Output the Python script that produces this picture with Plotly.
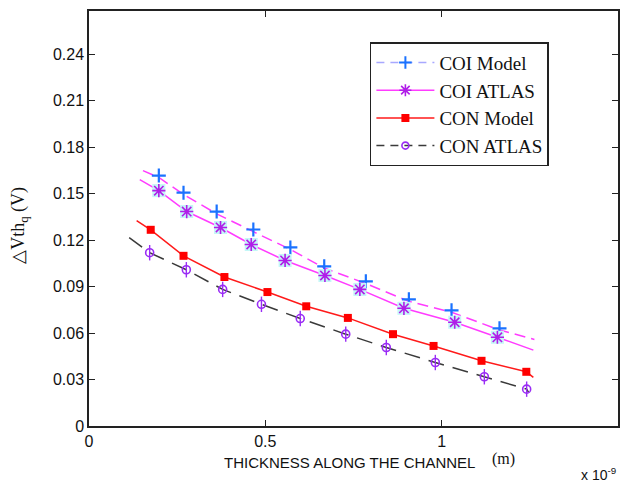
import plotly.graph_objects as go

# ---- data (x in units of 1e-9 m, y in V) ----
coi_model_x = [0.198, 0.268, 0.362, 0.466, 0.571, 0.667, 0.785, 0.907, 1.028, 1.164]
coi_model_y = [0.1617, 0.1507, 0.1385, 0.1269, 0.1153, 0.1031, 0.0934, 0.0818, 0.0747, 0.0631]
coi_model_line_x = [0.153, 0.198, 0.268, 0.362, 0.466, 0.571, 0.667, 0.785, 0.907, 1.028, 1.164, 1.263]
coi_model_line_y = [0.1649, 0.1605, 0.1495, 0.1370, 0.1255, 0.1140, 0.1020, 0.0920, 0.0805, 0.0735, 0.0620, 0.0559]

coi_atlas_x = [0.198, 0.277, 0.373, 0.460, 0.556, 0.669, 0.768, 0.893, 1.037, 1.158]
coi_atlas_y = [0.1520, 0.1385, 0.1282, 0.1172, 0.1069, 0.0972, 0.0882, 0.0760, 0.0670, 0.0573]
coi_atlas_line_x = [0.144, 0.198, 0.277, 0.373, 0.460, 0.556, 0.669, 0.768, 0.893, 1.037, 1.158, 1.260]
coi_atlas_line_y = [0.1591, 0.1520, 0.1385, 0.1282, 0.1172, 0.1069, 0.0972, 0.0882, 0.0760, 0.0670, 0.0573, 0.0490]

con_model_x = [0.175, 0.268, 0.384, 0.506, 0.616, 0.734, 0.862, 0.977, 1.113, 1.240]
con_model_y = [0.1267, 0.1099, 0.0962, 0.0865, 0.0773, 0.0698, 0.0593, 0.0517, 0.0421, 0.0350]
con_model_line_x = [0.135] + con_model_x + [1.260]
con_model_line_y = [0.1327] + con_model_y + [0.0314]

con_atlas_x = [0.172, 0.276, 0.379, 0.489, 0.599, 0.728, 0.843, 0.982, 1.121, 1.241]
con_atlas_y = [0.1119, 0.1009, 0.0882, 0.0786, 0.0694, 0.0593, 0.0507, 0.0410, 0.0318, 0.0238]
con_atlas_line_x = [0.114] + con_atlas_x + [1.246]
con_atlas_line_y = [0.1216] + con_atlas_y + [0.0219]

x_tickvals = [0, 0.5, 1, 1.5]
x_ticktext = ["0", "0.5", "1", "1.5"]
y_tickvals = [0, 0.03, 0.06, 0.09, 0.12, 0.15, 0.18, 0.21, 0.24]
y_ticktext = ["0", "0.03", "0.06", "0.09", "0.12", "0.15", "0.18", "0.21", "0.24"]

legend_names = ["COI Model", "COI ATLAS", "CON Model", "CON ATLAS"]

MAG = "#ff3cff"
BLUE = "#1a72ff"
PURP = "#b01ee8"
VIOL = "#9a2cf5"
RED = "#ff1a1a"
DARK = "#3a3a3a"

fig = go.Figure()

# lines
fig.add_trace(go.Scatter(x=coi_model_line_x, y=coi_model_line_y, mode="lines",
                         line=dict(color=MAG, width=1.5, dash="11px,6px"), showlegend=False, hoverinfo="skip"))
fig.add_trace(go.Scatter(x=coi_atlas_line_x, y=coi_atlas_line_y, mode="lines",
                         line=dict(color=MAG, width=1.5), showlegend=False, hoverinfo="skip"))
fig.add_trace(go.Scatter(x=con_model_line_x, y=con_model_line_y, mode="lines",
                         line=dict(color=RED, width=1.5), showlegend=False, hoverinfo="skip"))
fig.add_trace(go.Scatter(x=con_atlas_line_x, y=con_atlas_line_y, mode="lines",
                         line=dict(color=DARK, width=1.5, dash="16px,9px"), showlegend=False, hoverinfo="skip"))

# markers
fig.add_trace(go.Scatter(x=coi_model_x, y=coi_model_y, mode="markers", showlegend=False,
                         marker=dict(symbol="cross-thin-open", size=10, color=BLUE,
                                     line=dict(color=BLUE, width=2.2))))
fig.add_trace(go.Scatter(x=coi_atlas_x, y=coi_atlas_y, mode="markers", showlegend=False,
                         marker=dict(symbol="square", size=13, color="#c4f7f7", line=dict(width=0))))
fig.add_trace(go.Scatter(x=coi_atlas_x, y=coi_atlas_y, mode="markers", showlegend=False,
                         marker=dict(symbol="asterisk-open", size=11, color=PURP,
                                     line=dict(color=PURP, width=1.6))))
fig.add_trace(go.Scatter(x=con_model_x, y=con_model_y, mode="markers", showlegend=False,
                         marker=dict(symbol="square", size=8, color="#ff0000", line=dict(width=0))))
fig.add_trace(go.Scatter(x=con_atlas_x, y=con_atlas_y, mode="markers", showlegend=False,
                         marker=dict(symbol="circle-open", size=8, color=VIOL,
                                     line=dict(color=VIOL, width=1.6))))
fig.add_trace(go.Scatter(x=con_atlas_x, y=con_atlas_y, mode="markers", showlegend=False,
                         marker=dict(symbol="line-ns-open", size=11, color=VIOL,
                                     line=dict(color=VIOL, width=1.4))))

# legend entries
fig.add_trace(go.Scatter(x=[None], y=[None], mode="lines+markers", name=legend_names[0],
                         line=dict(color="#a8a8ff", width=1.5, dash="8px,6px"),
                         marker=dict(symbol="cross-thin-open", size=9, color=BLUE,
                                     line=dict(color=BLUE, width=2))))
fig.add_trace(go.Scatter(x=[None], y=[None], mode="lines+markers", name=legend_names[1],
                         line=dict(color=MAG, width=1.5),
                         marker=dict(symbol="asterisk-open", size=10, color=PURP,
                                     line=dict(color=PURP, width=1.6))))
fig.add_trace(go.Scatter(x=[None], y=[None], mode="lines+markers", name=legend_names[2],
                         line=dict(color=RED, width=1.5),
                         marker=dict(symbol="square", size=8, color="#ff0000")))
fig.add_trace(go.Scatter(x=[None], y=[None], mode="lines+markers", name=legend_names[3],
                         line=dict(color=DARK, width=1.5, dash="8px,6px"),
                         marker=dict(symbol="circle-open", size=7, color=VIOL,
                                     line=dict(color=VIOL, width=1.6))))

axis_common = dict(showgrid=False, zeroline=False, showline=True, linecolor="#222222", linewidth=1.5,
                   mirror="ticks", ticks="inside", ticklen=6, tickwidth=1.2, tickcolor="#222222",
                   tickfont=dict(family="Liberation Sans, Arial", size=16, color="#111111"))

fig.update_xaxes(range=[0, 1.5], tickvals=x_tickvals, ticktext=x_ticktext, **axis_common)
fig.update_yaxes(range=[0, 0.268], tickvals=y_tickvals, ticktext=y_ticktext, **axis_common)

fig.update_layout(
    width=629, height=482,
    margin=dict(l=89, r=9, t=10, b=56),
    paper_bgcolor="white", plot_bgcolor="white",
    showlegend=True,
    legend=dict(x=0.531, y=0.925, xanchor="left", yanchor="top",
                bordercolor="#222222", borderwidth=1.5, bgcolor="white",
                font=dict(family="Liberation Serif, Times New Roman", size=19, color="#111111"),
                itemwidth=58, entrywidth=122, entrywidthmode="pixels"),
    annotations=[
        dict(text="THICKNESS ALONG THE CHANNEL", xref="paper", yref="paper",
             x=(350 - 89) / 531, y=1 - (463 - 10) / 416, xanchor="center", yanchor="middle",
             showarrow=False, font=dict(family="Liberation Sans, Arial", size=15, color="#111111")),
        dict(text="(m)", xref="paper", yref="paper",
             x=(505 - 89) / 531, y=1 - (459 - 10) / 416, xanchor="center", yanchor="middle",
             showarrow=False, font=dict(family="Liberation Serif, Times New Roman", size=16, color="#111111")),
        dict(text="x 10<sup>-9</sup>", xref="paper", yref="paper",
             x=(600 - 89) / 531, y=1 - (474 - 10) / 416, xanchor="center", yanchor="middle",
             showarrow=False, font=dict(family="Liberation Sans, Arial", size=14, color="#111111")),
        dict(text="\u25b3Vth<sub>q</sub> (V)", xref="paper", yref="paper", textangle=-90,
             x=(19 - 89) / 531, y=1 - (225 - 10) / 416, xanchor="center", yanchor="middle",
             showarrow=False, font=dict(family="Liberation Serif, Times New Roman", size=18, color="#111111")),
    ],
)

fig.write_html("out.html")
